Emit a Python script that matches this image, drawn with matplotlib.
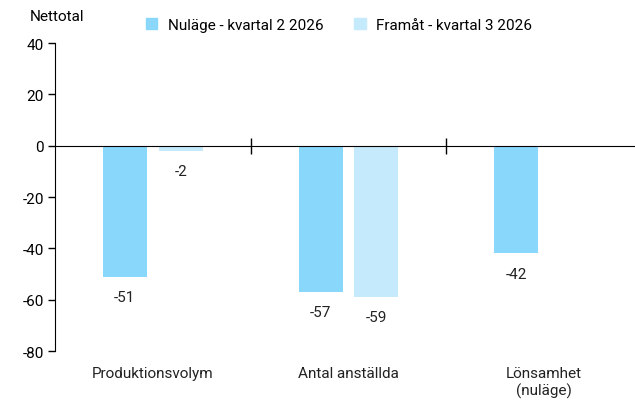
import matplotlib.pyplot as plt
import matplotlib.transforms as mtransforms
import numpy as np

plt.rcParams['font.family'] = ['Roboto', 'DejaVu Sans']
plt.rcParams['axes.unicode_minus'] = False

categories = ["Produktionsvolym", "Antal anställda", "Lönsamhet\n(nuläge)"]
series_names = ["Nuläge - kvartal 2 2026", "Framåt - kvartal 3 2026"]
nulage = [-51, -57, -42]
framat = [-2, -59, None]
colors = ["#89d8fc", "#c4eafc"]

fig = plt.figure(figsize=(6.35, 4.02), dpi=100)
ax = fig.add_axes([55 / 635, 1 - 352 / 402, 587 / 635, 308 / 402])

x = np.arange(len(categories))
width = 0.225
offset = 0.143
fs = 11

for vals, off, col in [(nulage, -offset, colors[0]), (framat, offset, colors[1])]:
    for xi, v in zip(x, vals):
        if v is None:
            continue
        ax.bar(xi + off, v, width=width, color=col, zorder=2)
        ax.annotate(str(v), (xi + off, v), xytext=(0, -9.5), textcoords="offset points",
                    ha="center", va="top", fontsize=fs, color="#222222")

ax.set_xlim(-0.5, 2.5)
ax.set_ylim(-80, 40)
ax.set_yticks(range(-80, 41, 20))
ax.tick_params(axis="y", direction="out", length=5, width=1, labelsize=fs, pad=3)
ax.set_xticks([0.5, 1.5])
ax.set_xticklabels([])
ax.tick_params(axis="x", direction="inout", length=12, width=1)

ax.spines["top"].set_visible(False)
ax.spines["right"].set_visible(False)
ax.spines["bottom"].set_position(("data", 0))
ax.spines["bottom"].set_zorder(3)

trans = mtransforms.blended_transform_factory(ax.transData, ax.transAxes)
for xi, name in zip(x, categories):
    ax.text(xi, -0.05, name, transform=trans, ha="center", va="top",
            fontsize=fs, linespacing=1.2, color="#222222")

fig.text(30 / 635, 1 - 17 / 402, "Nettotal", ha="left", va="center", fontsize=fs)

handles = [plt.Rectangle((0, 0), 1, 1, color=c) for c in colors]
fig.legend(handles, series_names, loc="center left", bbox_to_anchor=(132 / 635, 1 - 26 / 402),
           ncol=2, frameon=False, fontsize=fs, handlelength=0.75, handleheight=0.75,
           columnspacing=2.0, handletextpad=0.7)

fig.savefig("out.png", dpi=100)
